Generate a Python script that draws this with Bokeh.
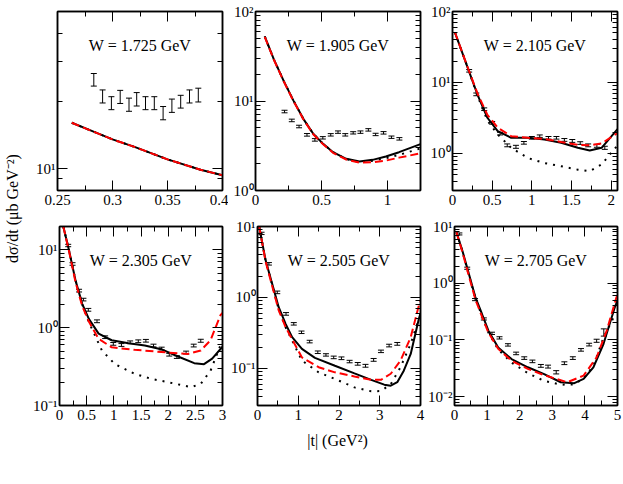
import math
from bokeh.plotting import figure
from bokeh.layouts import row, column
from bokeh.models import (FixedTicker, LinearAxis, LogAxis, Whisker, ColumnDataSource,
                          Label, CustomJSTickFormatter, Range1d, TeeHead)
from bokeh.embed import file_html
from bokeh.resources import INLINE

FONT = "Liberation Serif"

# ---------------- data ----------------
titles = ["W = 1.725 GeV", "W = 1.905 GeV", "W = 2.105 GeV",
          "W = 2.305 GeV", "W = 2.505 GeV", "W = 2.705 GeV"]

# panel 1
p1_x = [0.283, 0.291, 0.299, 0.307, 0.315, 0.322, 0.330, 0.338, 0.346, 0.354, 0.362, 0.370, 0.378]
p1_y = [24.9, 21.0, 19.6, 20.9, 19.3, 20.4, 19.6, 19.6, 17.7, 19.1, 19.9, 21.0, 21.3]
p1_e = [1.6, 1.4, 1.3, 1.4, 1.3, 1.4, 1.3, 1.3, 1.2, 1.3, 1.3, 1.4, 1.5]
p1_sx = [0.263, 0.28, 0.30, 0.32, 0.35, 0.38, 0.40]
p1_sy = [16.0, 14.8, 13.5, 12.5, 11.0, 9.9, 9.35]
p1_rx = p1_sx
p1_ry = p1_sy
p1_dx = p1_sx
p1_dy = p1_sy

# panel 2
p2_x = [0.22, 0.275, 0.33, 0.39, 0.45, 0.51, 0.57, 0.625, 0.68, 0.74, 0.795, 0.855, 0.91, 0.97, 1.03, 1.09]
p2_y = [7.63, 6.07, 5.19, 4.19, 3.68, 3.88, 4.19, 4.49, 4.19, 4.41, 4.49, 4.76, 4.23, 4.41, 3.94, 3.78]
p2_e = [0.25, 0.2, 0.17, 0.14, 0.12, 0.12, 0.13, 0.14, 0.13, 0.13, 0.14, 0.15, 0.13, 0.14, 0.12, 0.12]
p2_sx = [0.07, 0.1375, 0.2125, 0.2875, 0.3625, 0.4375, 0.5125, 0.5875, 0.6875, 0.7875, 0.8875, 0.9875, 1.0875, 1.25]
p2_sy = [52.6, 29.6, 16.9, 10.1, 6.32, 4.30, 3.32, 2.68, 2.26, 2.11, 2.20, 2.40, 2.68, 3.3]
p2_rx = [0.07, 0.1375, 0.2125, 0.2875, 0.3625, 0.4375, 0.5125, 0.5875, 0.6875, 0.7875, 0.8875, 0.9875, 1.0875, 1.25]
p2_ry = [52.0, 29.3, 16.7, 10.0, 6.25, 4.25, 3.28, 2.64, 2.22, 2.05, 2.07, 2.16, 2.33, 2.6]
p2_dx = [0.07, 0.1375, 0.2125, 0.2875, 0.3625, 0.4375, 0.5125, 0.5875, 0.6875, 0.7875, 0.8875, 0.9875, 1.0875, 1.25]
p2_dy = [52.6, 29.6, 16.9, 10.1, 6.32, 4.30, 3.32, 2.68, 2.24, 2.08, 2.15, 2.3, 2.5, 2.95]

# panel 3
p3_x = [0.21, 0.30, 0.40, 0.50, 0.60, 0.69, 0.80, 0.90, 1.00, 1.10, 1.21, 1.31, 1.41, 1.51, 1.61, 1.71, 1.82, 1.92]
p3_y = [14.6, 6.8, 4.2, 2.7, 1.9, 1.3, 1.24, 1.41, 1.66, 1.75, 1.66, 1.66, 1.55, 1.5, 1.4, 1.3, 1.28, 1.2]
p3_e = [0.6, 0.3, 0.18, 0.12, 0.08, 0.06, 0.06, 0.06, 0.07, 0.07, 0.07, 0.07, 0.07, 0.07, 0.06, 0.06, 0.06, 0.06]
p3_sx = [0.03, 0.19, 0.32, 0.44, 0.57, 0.74, 0.95, 1.16, 1.37, 1.58, 1.73, 1.88, 2.08]
p3_sy = [51, 16.3, 6.5, 3.18, 2.06, 1.66, 1.66, 1.57, 1.41, 1.20, 1.10, 1.20, 2.2]
p3_rx = [0.03, 0.19, 0.32, 0.44, 0.57, 0.74, 0.95, 1.16, 1.37, 1.58, 1.73, 1.88, 2.08]
p3_ry = [51, 16.5, 6.8, 3.5, 2.3, 1.75, 1.66, 1.6, 1.45, 1.32, 1.30, 1.38, 1.94]
p3_dx = [0.03, 0.19, 0.32, 0.44, 0.57, 0.74, 0.95, 1.16, 1.37, 1.58, 1.73, 1.88, 2.08]
p3_dy = [51, 16.3, 6.3, 2.9, 1.85, 1.2, 0.86, 0.73, 0.66, 0.59, 0.56, 0.70, 1.3]

# panel 4
p4_x = [0.16, 0.24, 0.36, 0.44, 0.53, 0.69, 0.84, 0.99, 1.14, 1.30, 1.45, 1.59, 1.73, 1.88, 2.02, 2.16, 2.33, 2.47, 2.60]
p4_y = [11.4, 6.6, 3.0, 2.3, 1.70, 1.21, 0.755, 0.62, 0.60, 0.65, 0.67, 0.68, 0.59, 0.54, 0.45, 0.42, 0.48, 0.59, 0.68]
p4_e = [0.4, 0.25, 0.12, 0.09, 0.07, 0.05, 0.03, 0.025, 0.025, 0.026, 0.027, 0.027, 0.024, 0.022, 0.018, 0.017, 0.02, 0.024, 0.03]
p4_sx = [0.07, 0.176, 0.297, 0.418, 0.54, 0.72, 0.96, 1.27, 1.57, 1.87, 2.17, 2.48, 2.66, 2.81, 3.0]
p4_sy = [20, 9.8, 4.0, 2.03, 1.30, 0.84, 0.69, 0.63, 0.59, 0.53, 0.43, 0.35, 0.34, 0.40, 0.57]
p4_rx = [0.07, 0.176, 0.297, 0.418, 0.54, 0.72, 0.96, 1.38, 1.99, 2.36, 2.6, 2.78, 2.96, 3.0]
p4_ry = [20, 9.6, 3.8, 1.9, 1.2, 0.72, 0.56, 0.52, 0.48, 0.46, 0.51, 0.69, 1.44, 1.55]
p4_dx = [0.07, 0.176, 0.297, 0.418, 0.54, 0.78, 1.02, 1.38, 1.69, 1.99, 2.42, 2.6, 2.78, 2.96]
p4_dy = [20, 9.8, 4.0, 2.0, 1.18, 0.51, 0.34, 0.256, 0.22, 0.20, 0.172, 0.19, 0.28, 0.59]

# panel 5
p5_x = [0.10, 0.28, 0.485, 0.70, 0.89, 1.08, 1.28, 1.48, 1.68, 1.87, 2.06, 2.26, 2.46, 2.65, 2.85, 3.03, 3.23, 3.43]
p5_y = [8.0, 2.98, 1.18, 0.587, 0.425, 0.323, 0.239, 0.169, 0.155, 0.143, 0.139, 0.125, 0.116, 0.109, 0.132, 0.174, 0.210, 0.222]
p5_e = [0.3, 0.12, 0.05, 0.025, 0.017, 0.013, 0.01, 0.007, 0.006, 0.006, 0.006, 0.005, 0.005, 0.005, 0.006, 0.007, 0.009, 0.01]
p5_sx = [0.04, 0.2, 0.36, 0.52, 0.69, 0.85, 1.09, 1.41, 1.9, 2.38, 2.79, 3.11, 3.27, 3.43, 3.59, 3.76, 3.96, 4.0]
p5_sy = [10, 3.31, 1.56, 0.73, 0.425, 0.275, 0.188, 0.141, 0.109, 0.085, 0.069, 0.059, 0.057, 0.064, 0.093, 0.160, 0.50, 0.6]
p5_rx = [0.04, 0.2, 0.36, 0.52, 0.69, 1.09, 1.5, 1.9, 2.38, 2.79, 3.03, 3.27, 3.51, 3.76, 3.96, 4.0]
p5_ry = [10, 3.2, 1.45, 0.66, 0.38, 0.143, 0.104, 0.088, 0.077, 0.069, 0.069, 0.084, 0.129, 0.275, 0.77, 0.9]
p5_dx = [0.04, 0.2, 0.36, 0.52, 0.69, 0.85, 1.09, 1.5, 1.9, 2.38, 2.79, 3.03, 3.27, 3.51, 3.76, 3.96]
p5_dy = [10, 3.3, 1.5, 0.68, 0.38, 0.247, 0.129, 0.088, 0.071, 0.054, 0.0475, 0.048, 0.060, 0.104, 0.222, 0.5]

# panel 6
p6_x = [0.15, 0.39, 0.63, 0.90, 1.15, 1.38, 1.64, 1.89, 2.14, 2.39, 2.65, 2.87, 3.12, 3.37, 3.63, 3.88, 4.13, 4.36, 4.58]
p6_y = [7.4, 1.84, 0.515, 0.235, 0.131, 0.109, 0.082, 0.058, 0.048, 0.042, 0.035, 0.034, 0.027, 0.039, 0.048, 0.067, 0.083, 0.097, 0.137]
p6_e = [0.3, 0.08, 0.022, 0.01, 0.006, 0.005, 0.004, 0.003, 0.0025, 0.0022, 0.002, 0.002, 0.0018, 0.0022, 0.0026, 0.0035, 0.0045, 0.006, 0.02]
p6_sx = [0.06, 0.24, 0.44, 0.64, 0.84, 1.04, 1.34, 1.75, 2.25, 2.75, 3.26, 3.66, 3.96, 4.26, 4.57, 4.92, 5.0]
p6_sy = [7.9, 3.78, 1.47, 0.57, 0.29, 0.146, 0.074, 0.046, 0.033, 0.025, 0.018, 0.0172, 0.0206, 0.033, 0.085, 0.38, 0.5]
p6_rx = [0.06, 0.24, 0.44, 0.64, 0.84, 1.04, 1.34, 1.75, 2.25, 2.75, 3.46, 3.96, 4.36, 4.67, 4.97, 5.0]
p6_ry = [7.9, 3.6, 1.35, 0.52, 0.26, 0.135, 0.07, 0.043, 0.031, 0.024, 0.018, 0.0235, 0.0496, 0.146, 0.57, 0.6]
p6_dx = [0.06, 0.24, 0.44, 0.64, 0.84, 1.04, 1.34, 1.75, 2.25, 2.75, 3.26, 3.66, 3.96, 4.26, 4.57, 4.88]
p6_dy = [7.9, 3.7, 1.4, 0.54, 0.27, 0.135, 0.068, 0.04, 0.026, 0.019, 0.0163, 0.0165, 0.021, 0.035, 0.11, 0.25]

# axis ranges and ticks
x_ranges = [(0.25, 0.4), (0, 1.25), (0, 2.08), (0, 3), (0, 4), (0, 5)]
y_ranges = [(8, 50), (1, 100), (0.3, 100), (0.1, 20), (0.03, 10), (0.007, 10)]
x_major = [[0.25, 0.3, 0.35, 0.4], [0, 0.5, 1], [0, 0.5, 1, 1.5, 2],
           [0, 0.5, 1, 1.5, 2, 2.5, 3], [0, 1, 2, 3, 4], [0, 1, 2, 3, 4, 5]]
x_minor = [[0.275, 0.325, 0.375], [0.25, 0.75], [0.25, 0.75, 1.25, 1.75],
           [0.25, 0.75, 1.25, 1.75, 2.25, 2.75], [0.5, 1.5, 2.5, 3.5], [0.5, 1.5, 2.5, 3.5, 4.5]]
y_major = [[10], [1, 10, 100], [1, 10, 100], [0.1, 1, 10], [0.1, 1, 10], [0.01, 0.1, 1, 10]]

panels = [
    (p1_x, p1_y, p1_e, p1_sx, p1_sy, p1_rx, p1_ry, p1_dx, p1_dy),
    (p2_x, p2_y, p2_e, p2_sx, p2_sy, p2_rx, p2_ry, p2_dx, p2_dy),
    (p3_x, p3_y, p3_e, p3_sx, p3_sy, p3_rx, p3_ry, p3_dx, p3_dy),
    (p4_x, p4_y, p4_e, p4_sx, p4_sy, p4_rx, p4_ry, p4_dx, p4_dy),
    (p5_x, p5_y, p5_e, p5_sx, p5_sy, p5_rx, p5_ry, p5_dx, p5_dy),
    (p6_x, p6_y, p6_e, p6_sx, p6_sy, p6_rx, p6_ry, p6_dx, p6_dy),
]

# ---------------- layout constants (page has no body margin) ----------------
YW = 30
col_w = [198, 197, 197]
col_left = [27, 27, 27]
col_right = [6, 5, 5]
row_h = [212, 215]
row_top = [11, 14]
row_bot = [22, 22]
FRAME_H = 179
TITLE_OFF = 34

x_fmt = CustomJSTickFormatter(code="return String(Math.round(tick*1000)/1000);")
y_fmt = CustomJSTickFormatter(code="""
const e = Math.round(Math.log10(tick));
const sup = {'-':'\u207b','0':'\u2070','1':'\u00b9','2':'\u00b2','3':'\u00b3'};
return '10' + String(e).split('').map(c => sup[c]).join('');
""")


def log_minor(lo, hi):
    out = []
    d0 = math.floor(math.log10(lo)) - 1
    d1 = math.ceil(math.log10(hi)) + 1
    for d in range(d0, d1):
        for m in range(2, 10):
            v = m * 10 ** d
            if lo * 0.999 <= v <= hi * 1.001:
                out.append(v)
    return out


def style_axis(ax, show_labels, fmt):
    ax.major_tick_in = 10
    ax.major_tick_out = 0
    ax.minor_tick_in = 5
    ax.minor_tick_out = 0
    ax.major_tick_line_color = "black"
    ax.minor_tick_line_color = "black"
    ax.major_tick_line_width = 1
    ax.minor_tick_line_width = 1
    ax.axis_line_color = "black"
    ax.axis_line_width = 1.5
    ax.formatter = fmt
    if show_labels:
        ax.major_label_text_font = FONT
        ax.major_label_text_font_size = "15px"
        ax.major_label_text_color = "black"
    else:
        ax.major_label_text_font_size = "0px"
        ax.major_label_text_color = None
        ax.major_label_text_alpha = 0
        ax.major_label_standoff = 0
    ax.axis_label = None


def make_panel(i):
    r, c = divmod(i, 3)
    xs, ys, es, sx, sy, rx, ry, dx, dy = panels[i]
    xr = x_ranges[i]
    yr = y_ranges[i]
    p = figure(width=col_w[c], height=row_h[r],
               x_range=Range1d(*xr), y_range=Range1d(*yr), y_axis_type="log",
               output_backend="svg", toolbar_location=None,
               min_border_left=col_left[c], min_border_right=col_right[c],
               min_border_top=row_top[r], min_border_bottom=row_bot[r])
    p.grid.visible = False
    p.outline_line_color = "black"
    p.outline_line_width = 1.5
    p.background_fill_color = "white"
    p.border_fill_color = "white"

    p.xaxis.ticker = FixedTicker(ticks=x_major[i], minor_ticks=x_minor[i])
    p.yaxis.ticker = FixedTicker(ticks=y_major[i], minor_ticks=log_minor(*yr))
    style_axis(p.xaxis[0], True, x_fmt)
    style_axis(p.yaxis[0], True, y_fmt)
    p.xaxis.major_label_standoff = 4
    p.yaxis.major_label_standoff = 2

    top = LinearAxis(ticker=FixedTicker(ticks=x_major[i], minor_ticks=x_minor[i]))
    style_axis(top, False, x_fmt)
    p.add_layout(top, "above")
    right = LogAxis(ticker=FixedTicker(ticks=y_major[i], minor_ticks=log_minor(*yr)))
    style_axis(right, False, y_fmt)
    p.add_layout(right, "right")

    # curves
    p.line(dx, dy, line_color="black", line_width=2, line_dash="2 6")
    p.line(sx, sy, line_color="black", line_width=2)
    p.line(rx, ry, line_color="red", line_width=2, line_dash="8 4")

    # data with error bars
    src = ColumnDataSource(dict(x=xs, y=ys,
                                lo=[y - e for y, e in zip(ys, es)],
                                hi=[y + e for y, e in zip(ys, es)]))
    w = Whisker(source=src, base="x", lower="lo", upper="hi", dimension="height",
                line_color="black", line_width=1,
                lower_head=TeeHead(size=6, line_color="black", line_width=1),
                upper_head=TeeHead(size=6, line_color="black", line_width=1))
    p.add_layout(w)

    # title text
    lt, lb = math.log10(yr[1]), math.log10(yr[0])
    ty = 10 ** (lt - TITLE_OFF / FRAME_H * (lt - lb))
    p.add_layout(Label(x=(xr[0] + xr[1]) / 2, y=ty, text=titles[i],
                       text_align="center", text_baseline="middle",
                       text_font=FONT, text_font_size="16px", text_color="black"))
    return p


figs = [make_panel(i) for i in range(6)]

# x-axis label strip
XW = sum(col_w)
XH = 30
xl = figure(width=XW, height=XH, x_range=Range1d(0, XW), y_range=Range1d(0, XH),
            output_backend="svg", toolbar_location=None, min_border=0)
xl.axis.visible = False
xl.grid.visible = False
xl.outline_line_color = None
xl.add_layout(Label(x=337 - YW, y=XH - 13, text="|t| (GeV\u00b2)", text_align="center",
                    text_baseline="middle", text_font=FONT, text_font_size="16px",
                    text_color="black"))

# y-axis label strip
YH = row_h[0] + row_h[1] + XH
yl = figure(width=YW, height=YH, x_range=Range1d(0, YW), y_range=Range1d(0, YH),
            output_backend="svg", toolbar_location=None, min_border=0)
yl.axis.visible = False
yl.grid.visible = False
yl.outline_line_color = None
yl.add_layout(Label(x=12, y=YH - 208, text="d\u03c3/dt (\u03bcb GeV\u207b\u00b2)",
                    angle=math.pi / 2, text_align="center", text_baseline="middle",
                    text_font=FONT, text_font_size="16px", text_color="black"))

layout = row(yl, column(row(*figs[:3], spacing=0), row(*figs[3:], spacing=0), xl, spacing=0), spacing=0)

open("out.html", "w").write(file_html(layout, INLINE))
